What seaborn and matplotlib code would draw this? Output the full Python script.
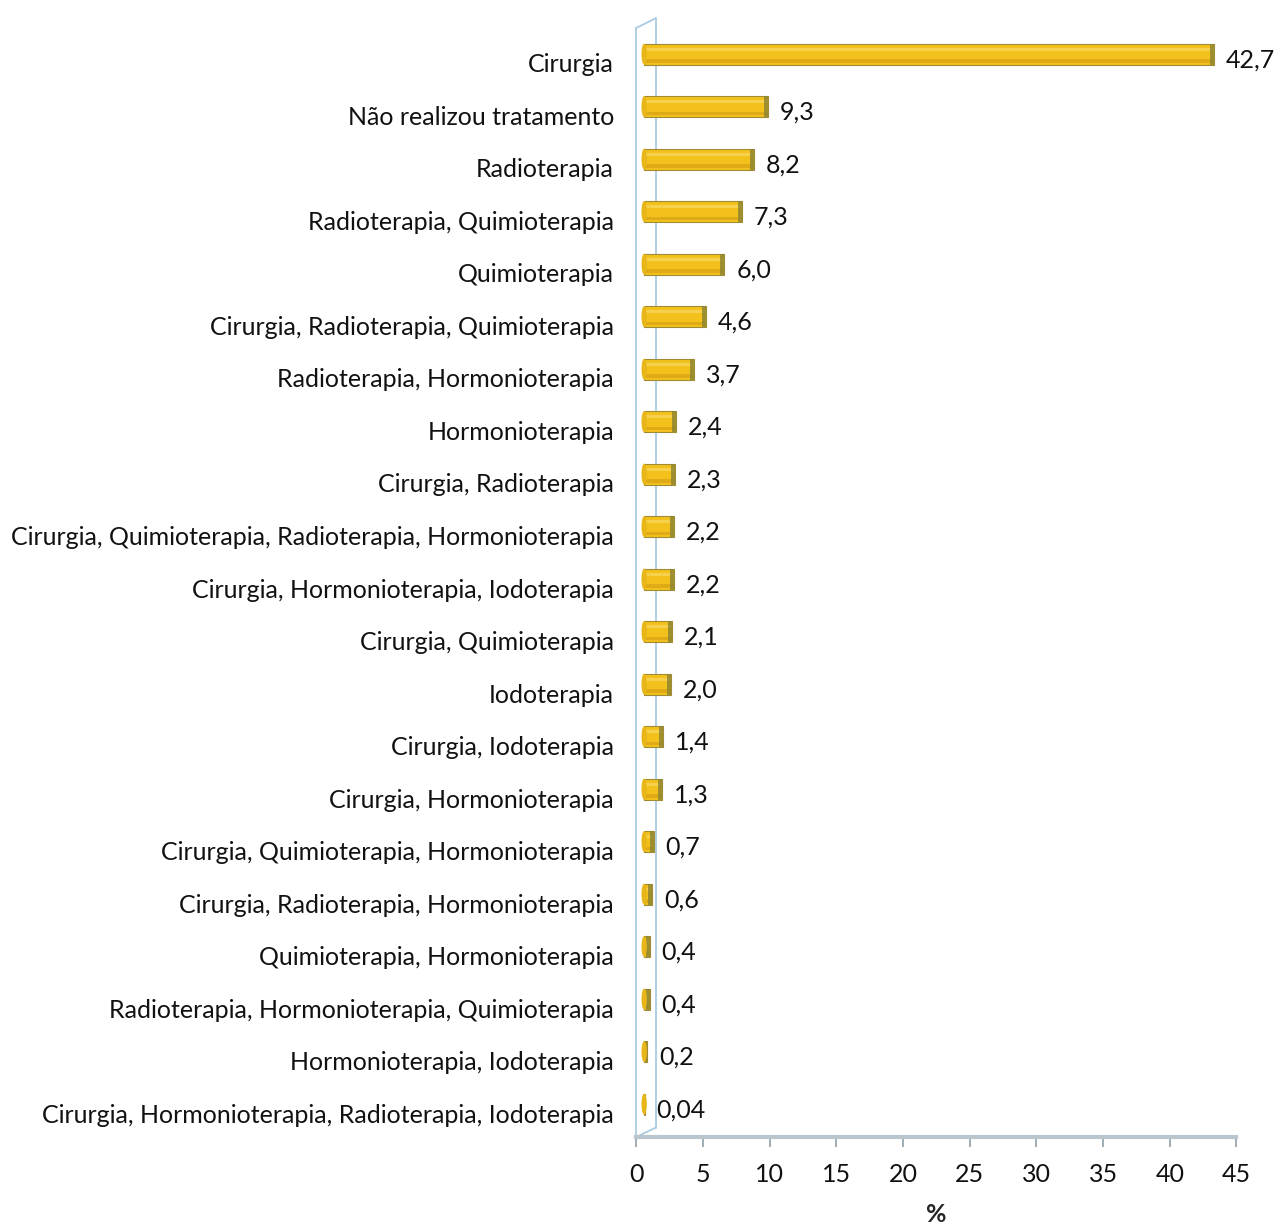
import matplotlib
matplotlib.use("Agg")
import matplotlib.pyplot as plt
from matplotlib.patches import Ellipse
import seaborn as sns
import pandas as pd

categories = [
    "Cirurgia",
    "Não realizou tratamento",
    "Radioterapia",
    "Radioterapia, Quimioterapia",
    "Quimioterapia",
    "Cirurgia, Radioterapia, Quimioterapia",
    "Radioterapia, Hormonioterapia",
    "Hormonioterapia",
    "Cirurgia, Radioterapia",
    "Cirurgia, Quimioterapia, Radioterapia, Hormonioterapia",
    "Cirurgia, Hormonioterapia, Iodoterapia",
    "Cirurgia, Quimioterapia",
    "Iodoterapia",
    "Cirurgia, Iodoterapia",
    "Cirurgia, Hormonioterapia",
    "Cirurgia, Quimioterapia, Hormonioterapia",
    "Cirurgia, Radioterapia, Hormonioterapia",
    "Quimioterapia, Hormonioterapia",
    "Radioterapia, Hormonioterapia, Quimioterapia",
    "Hormonioterapia, Iodoterapia",
    "Cirurgia, Hormonioterapia, Radioterapia, Iodoterapia",
]
percent = [42.7, 9.3, 8.2, 7.3, 6.0, 4.6, 3.7, 2.4, 2.3, 2.2, 2.2, 2.1,
           2.0, 1.4, 1.3, 0.7, 0.6, 0.4, 0.4, 0.2, 0.04]
x_ticks = [0, 5, 10, 15, 20, 25, 30, 35, 40, 45]

df = pd.DataFrame({"tratamento": categories, "pct": percent})

sns.set_theme(style="white")
plt.rcParams["font.family"] = ["Lato", "DejaVu Sans"]
FS = 18.0
WALL = "#A9CCE2"

fig = plt.figure(figsize=(12.8, 12.32), dpi=100)
ax = fig.add_axes([0.497, 0.0771, 0.469, 0.9002])

BAR_H = 0.40
DEPTH_X = 0.6    # perspective shift of the bars into the chart
DEPTH_Y = -0.17

sns.barplot(data=df, x="pct", y="tratamento", orient="h", ax=ax,
            color="#F2C11C", edgecolor="#A08C34", linewidth=0.8,
            width=BAR_H, saturation=1, zorder=2)
for p in ax.patches:
    p.set_x(p.get_x() + DEPTH_X)
    p.set_y(p.get_y() + DEPTH_Y)

# shading for a rounded cylinder look
for i, v in enumerate(percent):
    yc = i + DEPTH_Y
    cap = min(0.3, v * 0.6)
    ax.barh(yc + BAR_H * 0.33, v, left=DEPTH_X, height=BAR_H * 0.18,
            color="#D9A514", edgecolor="none", zorder=3, alpha=0.8)
    ax.barh(yc - BAR_H * 0.22, v, left=DEPTH_X, height=BAR_H * 0.14,
            color="#F9D65A", edgecolor="none", zorder=3, alpha=0.8)
    ax.barh(yc, cap, left=DEPTH_X + v - cap, height=BAR_H,
            color="#8F8632", edgecolor="none", zorder=4, alpha=0.85)
    # rounded base of the cylinder against the wall
    ax.add_patch(Ellipse((DEPTH_X, yc), 0.4, BAR_H, facecolor="#E8B619",
                         edgecolor="none", zorder=5))

for i, v in enumerate(percent):
    txt = f"{v:.2f}" if v < 0.1 else f"{v:.1f}"
    ax.text(DEPTH_X + v + 0.9, i - 0.06, txt.replace(".", ","),
            va="center", ha="left", fontsize=FS, color="#111111")

# side wall of the plotting area
ylo, yhi = 20.457, -0.667
ax.plot([1.45, 1.45], [20.28, -0.85], color=WALL, lw=1.3, clip_on=False,
        zorder=1)
ax.plot([0, 1.45], [ylo, 20.28], color=WALL, lw=1.3, clip_on=False)
ax.plot([0, 1.45], [yhi, -0.85], color=WALL, lw=1.3, clip_on=False)

ax.set_xlim(0, 45)
ax.set_ylim(ylo, yhi)
ax.set_xticks(x_ticks)
ax.set_xticklabels([str(t) for t in x_ticks], fontsize=FS)
ax.tick_params(axis="x", bottom=True, length=7, width=1.3,
               color="#9AA7B0", pad=12)
ax.tick_params(axis="y", left=False, labelsize=FS, pad=10)
for lbl in ax.get_yticklabels() + ax.get_xticklabels():
    lbl.set_color("#111111")

ax.set_ylabel("")
ax.set_xlabel("%", fontsize=FS, fontweight="bold", labelpad=12)

for s in ["top", "right"]:
    ax.spines[s].set_visible(False)
ax.spines["bottom"].set_color("#BAC6CE")
ax.spines["bottom"].set_linewidth(3)
ax.spines["left"].set_color(WALL)
ax.spines["left"].set_linewidth(1.3)

fig.savefig("out.png", dpi=100, facecolor="white")
